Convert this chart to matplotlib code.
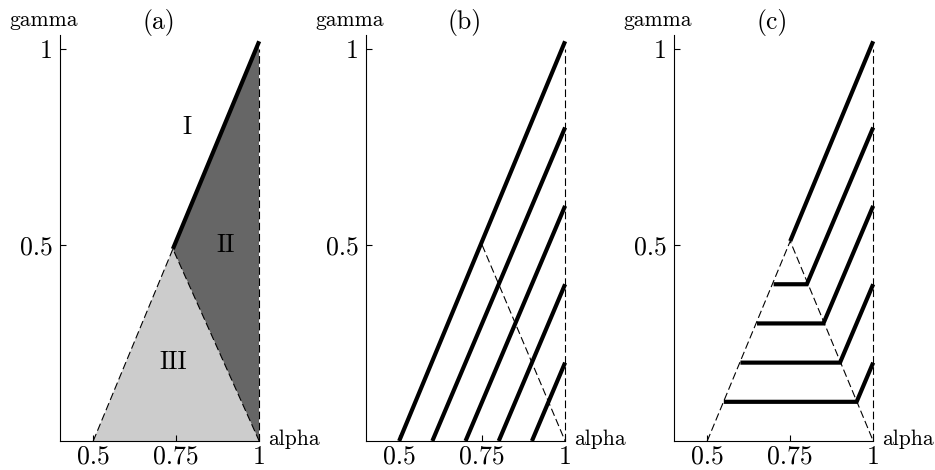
import matplotlib
matplotlib.use("Agg")
import matplotlib.pyplot as plt

plt.rcParams['font.family'] = ['cmr10', 'DejaVu Serif']
plt.rcParams['axes.formatter.use_mathtext'] = True
plt.rcParams['lines.scale_dashes'] = False

# panel (a): the two shaded regions and the thick boundary
apex_a = (0.74, 0.49)
region_III_alpha = [0.5, 0.74, 1.0]
region_III_gamma = [0.0, 0.49, 0.0]
region_II_alpha = [0.74, 1.0, 1.0]
region_II_gamma = [0.49, 1.02, 0.0]
region_names = ["I", "II", "III"]
region_name_alpha = [0.784, 0.90, 0.74]
region_name_gamma = [0.80, 0.50, 0.20]

# panel (b): parallel lines, start alpha on gamma=0, end gamma on alpha=1
b_start_alpha = [0.5, 0.6, 0.7, 0.8, 0.9]
b_end_gamma = [1.02, 0.8, 0.6, 0.4, 0.2]

# panel (c): steps, flat part from left to corner, then up to alpha=1
c_top_start = (0.75, 0.51)
c_top_end_gamma = 1.02
c_level_gamma = [0.4, 0.3, 0.2, 0.1]
c_left_alpha = [0.7, 0.65, 0.6, 0.55]
c_corner_alpha = [0.8, 0.85, 0.9, 0.95]
c_end_gamma = [0.8, 0.6, 0.4, 0.2]

xticks = [0.5, 0.75, 1.0]
xticklabels = ["0.5", "0.75", "1"]
yticks = [0.5, 1.0]
yticklabels = ["0.5", "1"]
titels = ["(a)", "(b)", "(c)"]

dash = (0, (5.5, 2.5))
dik = 3.0
dun = 0.8

fig = plt.figure(figsize=(9.35, 4.70), dpi=100)
lefts = [0.0642, 0.3914, 0.7209]
axes = [fig.add_axes([l, 0.0617, 0.2130, 0.8638]) for l in lefts]


def opmaak(ax, titel):
    ax.set_xlim(0.4, 1.0)
    ax.set_ylim(0.0, 1.036)
    ax.spines['top'].set_visible(False)
    ax.spines['right'].set_visible(False)
    for s in ['left', 'bottom']:
        ax.spines[s].set_linewidth(0.8)
    ax.set_xticks(xticks)
    ax.set_xticklabels(xticklabels)
    ax.set_yticks(yticks)
    ax.set_yticklabels(yticklabels)
    ax.tick_params(direction='in', length=4, width=0.8, labelsize=18.5)
    ax.tick_params(axis='y', pad=5)
    ax.tick_params(axis='x', pad=3)
    ax.text(-0.08, 1.022, "gamma", transform=ax.transAxes, ha='center',
            va='baseline', fontsize=15.5)
    ax.text(1.045, -0.01, "alpha", transform=ax.transAxes, ha='left',
            va='baseline', fontsize=15.5)
    ax.text(0.495, 1.015, titel, transform=ax.transAxes, ha='center',
            va='baseline', fontsize=18.5)


def gestippeld(ax, x, y):
    ax.plot(x, y, c="k", lw=dun, ls=dash, clip_on=False, zorder=3)


# (a)
ax = axes[0]
ax.fill(region_III_alpha, region_III_gamma, color="#cccccc", lw=0)
ax.fill(region_II_alpha, region_II_gamma, color="#666666", lw=0)
gestippeld(ax, [0.5, apex_a[0], 1.0], [0.0, apex_a[1], 0.0])
gestippeld(ax, [1.0, 1.0], [0.0, 1.0])
ax.plot([apex_a[0], 1.0], [apex_a[1], region_II_gamma[1]], c="k", lw=dik,
        solid_capstyle='butt', clip_on=False, zorder=4)
for naam, a, g in zip(region_names, region_name_alpha, region_name_gamma):
    ax.text(a, g, naam, ha='center', va='center', fontsize=18.5)

# (b)
ax = axes[1]
gestippeld(ax, [0.75, 1.0], [0.5, 0.0])
gestippeld(ax, [1.0, 1.0], [0.0, 1.0])
for a0, g1 in zip(b_start_alpha, b_end_gamma):
    ax.plot([a0, 1.0], [0.0, g1], c="k", lw=dik, solid_capstyle='butt',
            clip_on=False, zorder=4)

# (c)
ax = axes[2]
gestippeld(ax, [0.5, c_top_start[0], 1.0], [0.0, c_top_start[1], 0.0])
gestippeld(ax, [1.0, 1.0], [0.0, 1.0])
ax.plot([c_top_start[0], 1.0], [c_top_start[1], c_top_end_gamma], c="k",
        lw=dik, solid_capstyle='butt', clip_on=False, zorder=4)
for g, al, ac, ge in zip(c_level_gamma, c_left_alpha, c_corner_alpha, c_end_gamma):
    ax.plot([al, ac, 1.0], [g, g, ge], c="k", lw=dik, solid_capstyle='butt',
            solid_joinstyle='miter', clip_on=False, zorder=4)

for ax, titel in zip(axes, titels):
    opmaak(ax, titel)

fig.savefig("out.png", dpi=100)
